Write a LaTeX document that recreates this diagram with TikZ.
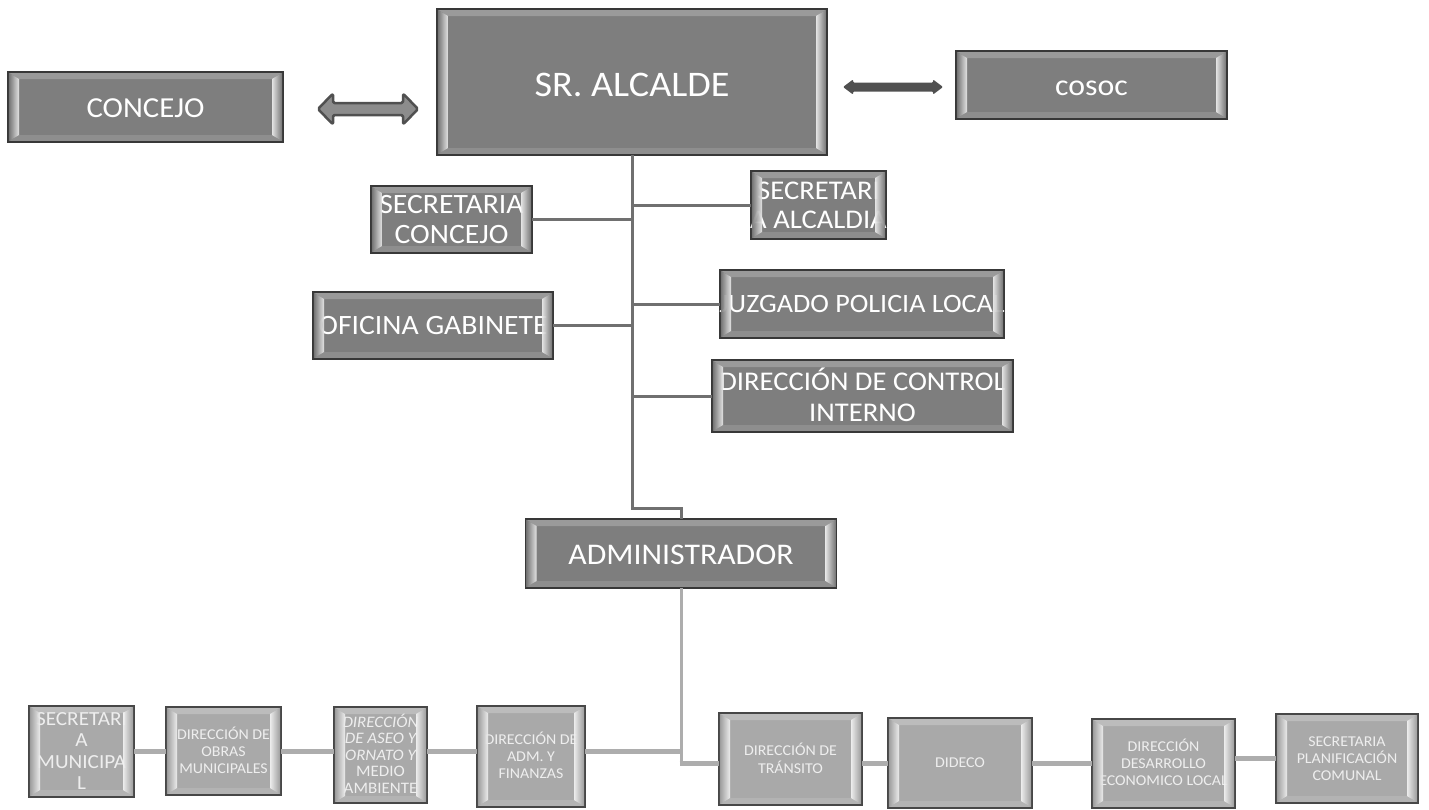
\documentclass[tikz,border=0pt]{standalone}
\usepackage{fontspec}
\setmainfont{Carlito}[FakeStretch=1.06]
\usetikzlibrary{calc}

\definecolor{topfill}{HTML}{7E7E7E}
\definecolor{lowfill}{HTML}{A9A9A9}
\definecolor{edge}{HTML}{383838}
\definecolor{lowedge}{HTML}{474747}
\definecolor{toplink}{HTML}{707070}
\definecolor{lowlink}{HTML}{ADADAD}
\definecolor{lowtext}{HTML}{EEEEEE}
\definecolor{arrowfill}{HTML}{8C8C8C}
\definecolor{arrowdark}{HTML}{505050}

% centred, zero-size block of lines so the box keeps its own size
\newcommand\boxtext[1]{\makebox[0pt]{\raisebox{-0.34em}[0pt][0pt]{\begin{tabular}{@{}c@{}}#1\end{tabular}}}}
\newcommand\boxfont[2]{\fontsize{#1}{#2}\selectfont}

% side faces of a bevelled box, laid over its text
\newcommand\bevelsides[2]{%
  \shade[left color=#2!92!black, right color=#2!15!white, opacity=.92]
    ($(#1.north west)+(0.8,0.8)$) -- ($(#1.north west)+(11,7)$)
    -- ($(#1.south west)+(11,-7)$) -- ($(#1.south west)+(0.8,-0.8)$) -- cycle;
  \shade[left color=#2!15!white, right color=#2!92!black, opacity=.92]
    ($(#1.north east)+(-0.8,0.8)$) -- ($(#1.north east)+(-11,7)$)
    -- ($(#1.south east)+(-11,-7)$) -- ($(#1.south east)+(-0.8,-0.8)$) -- cycle;
}

\tikzset{
  bevel/.style={
    fill=#1,
    path picture={
      \path (path picture bounding box.north west) coordinate (b1)
            (path picture bounding box.north east) coordinate (b3)
            (path picture bounding box.south east) coordinate (b2)
            (path picture bounding box.south west) coordinate (b4);
      \path (b1) ++(11pt,-7pt) coordinate (i1)
            (b3) ++(-11pt,-7pt) coordinate (i3)
            (b2) ++(-11pt,7pt) coordinate (i2)
            (b4) ++(11pt,7pt) coordinate (i4);
      % upper and lower faces of the bevel
      \fill[#1!78!white] (b1) -- (b3) -- (i3) -- (i1) -- cycle;
      \fill[#1!88!white] (b4) -- (b2) -- (i2) -- (i4) -- cycle;
    }
  },
  topbox/.style={bevel=topfill, draw=edge, line width=1.6pt,
    text=white, inner sep=0pt, outer sep=0pt},
  lowbox/.style={bevel=lowfill, draw=lowedge, line width=1.6pt,
    text=lowtext, inner sep=0pt, outer sep=0pt},
  toplinkline/.style={draw=toplink, line width=3pt},
  lowlinkline/.style={draw=lowlink, line width=5pt},
  hollowarrow/.style={fill=arrowfill, draw=arrowdark, line width=2.5pt,
    rounded corners=1.5pt, line join=round},
  solidarrow/.style={fill=arrowdark, rounded corners=1pt},
}

\begin{document}
\begin{tikzpicture}[x=1pt,y=-1pt]
\useasboundingbox (0,0) rectangle (1429,809);
\fill[white] (0,0) rectangle (1429,809);

% upper level
\node[topbox, minimum width=390pt, minimum height=146pt, font=\boxfont{36}{42}]
  (alcalde) at (632,82) {\boxtext{SR. ALCALDE}};
\node[topbox, minimum width=275pt, minimum height=70pt, font=\boxfont{29}{33}]
  (concejo) at (145.5,107) {\boxtext{CONCEJO}};
\node[topbox, minimum width=271pt, minimum height=68pt, font=\boxfont{30}{33}]
  (cosoc) at (1091.5,85) {\boxtext{cosoc}};

% staff offices
\node[topbox, minimum width=161pt, minimum height=67pt, font=\boxfont{28}{30}]
  (seccon) at (451.5,219.5) {\boxtext{SECRETARIA\\CONCEJO}};
\node[topbox, minimum width=135pt, minimum height=68pt, font=\boxfont{27}{29}]
  (secalc) at (818.5,205) {\boxtext{SECRETARI\\A ALCALDIA}};
\node[topbox, minimum width=284pt, minimum height=68pt, font=\boxfont{26.5}{30}]
  (juzgado) at (862,304) {\boxtext{JUZGADO POLICIA LOCAL}};
\node[topbox, minimum width=240pt, minimum height=67pt, font=\boxfont{28}{30}]
  (oficina) at (433,325.5) {\boxtext{OFICINA GABINETE}};
\node[topbox, minimum width=301pt, minimum height=72pt, font=\boxfont{27}{31}]
  (control) at (862.5,396) {\boxtext{DIRECCIÓN DE CONTROL\\INTERNO}};

\node[topbox, minimum width=311pt, minimum height=69pt, font=\boxfont{30}{34}]
  (admin) at (681,553.5) {\boxtext{ADMINISTRADOR}};

% departments
\node[lowbox, minimum width=105pt, minimum height=91pt, font=\boxfont{20}{21.5}]
  (secmun) at (81.5,751.5) {\boxtext{SECRETARI\\A\\MUNICIPA\\L}};
\node[lowbox, minimum width=115pt, minimum height=88pt, font=\boxfont{15}{17}]
  (obras) at (223.5,751) {\boxtext{DIRECCIÓN DE\\OBRAS\\MUNICIPALES}};
\node[lowbox, minimum width=93pt, minimum height=96pt, font=\boxfont{16}{16.5}]
  (aseo) at (380.5,755) {\boxtext{\itshape DIRECCIÓN\\\itshape DE ASEO Y\\\itshape ORNATO Y\\MEDIO\\AMBIENTE}};
\node[lowbox, minimum width=108pt, minimum height=101pt, font=\boxfont{15}{17}]
  (adm) at (531,756.5) {\boxtext{DIRECCIÓN DE\\ADM. Y\\FINANZAS}};
\node[lowbox, minimum width=143pt, minimum height=92pt, font=\boxfont{15}{17}]
  (transito) at (790.5,759) {\boxtext{DIRECCIÓN DE\\TRÁNSITO}};
\node[lowbox, minimum width=144pt, minimum height=90pt, font=\boxfont{15}{17}]
  (dideco) at (960,763) {\boxtext{DIDECO}};
\node[lowbox, minimum width=143pt, minimum height=89pt, font=\boxfont{15}{17}]
  (desarrollo) at (1163.5,763.5) {\boxtext{DIRECCIÓN\\DESARROLLO\\ECONOMICO LOCAL}};
\node[lowbox, minimum width=142pt, minimum height=89pt, font=\boxfont{15}{17}]
  (planif) at (1347,758.5) {\boxtext{SECRETARIA\\PLANIFICACIÓN\\COMUNAL}};

% bevel side faces over every box
\foreach \n in {alcalde,concejo,cosoc,seccon,secalc,juzgado,oficina,control,admin}
  {\bevelsides{\n}{topfill}}
\foreach \n in {secmun,obras,aseo,adm,transito,dideco,desarrollo,planif}
  {\bevelsides{\n}{lowfill}}

% two-way links beside the mayor
\coordinate (ha) at ($(concejo.east)+(35,2)$);
\coordinate (hb) at ($(alcalde.west |- concejo.east)+(-19,2)$);
\filldraw[hollowarrow] (ha) -- ++(15,-15.5) -- ++(0,9.5) -- ($(hb)+(-15,-6)$)
  -- ++(0,-9.5) -- (hb) -- ++(-15,15.5) -- ++(0,-9.5) -- ($(ha)+(15,6)$)
  -- ++(0,9.5) -- cycle;
\coordinate (ka) at ($(alcalde.east |- cosoc.west)+(16,2)$);
\coordinate (kb) at ($(cosoc.west)+(-13,2)$);
\fill[solidarrow] (ka) -- ++(10,-7.5) -- ++(0,3) -- ($(kb)+(-10,-4.5)$)
  -- ++(0,-3) -- (kb) -- ++(-10,7.5) -- ++(0,-3) -- ($(ka)+(10,4.5)$)
  -- ++(0,3) -- cycle;

% main trunk and staff branches
\draw[toplinkline] (alcalde.south) -- ++(0,353) -| (admin.north);
\draw[toplinkline] (seccon.east) -- (seccon.east -| alcalde.south);
\draw[toplinkline] (oficina.east) -- (oficina.east -| alcalde.south);
\draw[toplinkline] (secalc.west) -- (secalc.west -| alcalde.south);
\draw[toplinkline] (juzgado.west) -- (juzgado.west -| alcalde.south);
\draw[toplinkline] (control.west) -- (control.west -| alcalde.south);

% department row
\coordinate (jl) at (admin.south |- obras.east);
\coordinate (jr) at (admin.south |- dideco.west);
\draw[lowlinkline, line width=3pt] (admin.south) -- ($(jr)+(0,2)$);
\draw[lowlinkline] (secmun.east) -- (obras.west |- secmun.east);
\draw[lowlinkline] (obras.east) -- (obras.east -| aseo.west);
\draw[lowlinkline] (aseo.east |- jl) -- (adm.west |- jl);
\draw[lowlinkline] (adm.east |- jl) -- ($(jl)+(1.5,0)$);
\draw[lowlinkline] ($(jr)+(-1.5,0)$) -- (transito.west |- jr);
\draw[lowlinkline] (transito.east |- jr) -- (dideco.west);
\draw[lowlinkline] (dideco.east) -- (dideco.east -| desarrollo.west);
\draw[lowlinkline] (desarrollo.east |- planif.west) -- (planif.west);
\end{tikzpicture}
\end{document}
